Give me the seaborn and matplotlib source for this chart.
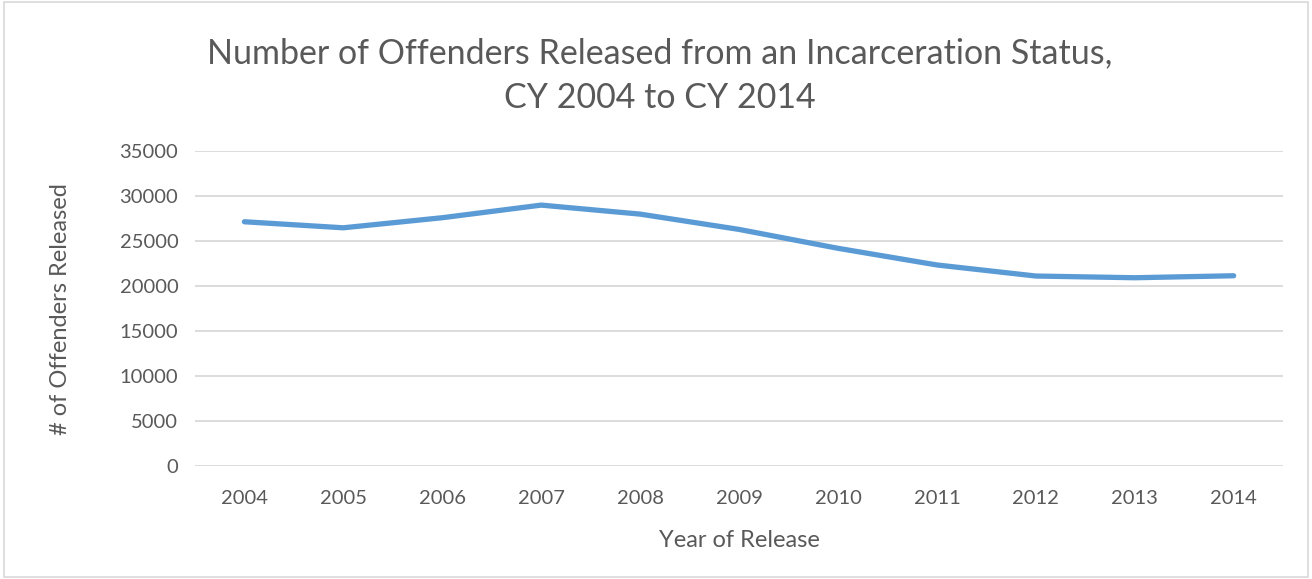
import seaborn as sns
import matplotlib.pyplot as plt
import pandas as pd
from matplotlib.patches import Rectangle

years = [2004, 2005, 2006, 2007, 2008, 2009, 2010, 2011, 2012, 2013, 2014]
released = [27150, 26480, 27600, 29000, 28000, 26300, 24200, 22350, 21120, 20930, 21150]
y_ticks = [0, 5000, 10000, 15000, 20000, 25000, 30000, 35000]

df = pd.DataFrame({"Year": years, "Released": released})

sns.set_style("white")
plt.rcParams['font.family'] = ['Lato', 'DejaVu Sans']
text_col = "#595959"

fig = plt.figure(figsize=(13.12, 5.79), dpi=100)
ax = fig.add_axes([0.1486, 0.195, 0.8294, 0.544])

sns.lineplot(data=df, x="Year", y="Released", color="#5B9BD5", linewidth=3.8,
             ax=ax, solid_capstyle="round", solid_joinstyle="round")

ax.set_xlim(2003.5, 2014.5)
ax.set_ylim(0, 35000)
ax.set_xticks(years)
ax.set_xticklabels([str(y) for y in years])
ax.set_yticks(y_ticks)
ax.yaxis.grid(True, color="#D9D9D9", linewidth=1.3)
ax.set_axisbelow(True)
for s in ax.spines.values():
    s.set_visible(False)
ax.tick_params(axis="both", length=0, labelsize=14.5, colors=text_col)
ax.tick_params(axis="x", pad=17)
ax.tick_params(axis="y", pad=12)

ax.set_xlabel("Year of Release", fontsize=17, color=text_col, labelpad=17)
ax.set_ylabel("# of Offenders Released", fontsize=17, color=text_col, labelpad=35)

fig.text(0.503, 0.87, "Number of Offenders Released from an Incarceration Status,\nCY 2004 to CY 2014",
         ha="center", va="center", fontsize=24.5, color=text_col, linespacing=1.5)

fig.patches.append(Rectangle((0.003, 0.003), 0.994, 0.994, transform=fig.transFigure,
                             fill=False, edgecolor="#D9D9D9", linewidth=1.2))

plt.savefig("out.png", dpi=100)
